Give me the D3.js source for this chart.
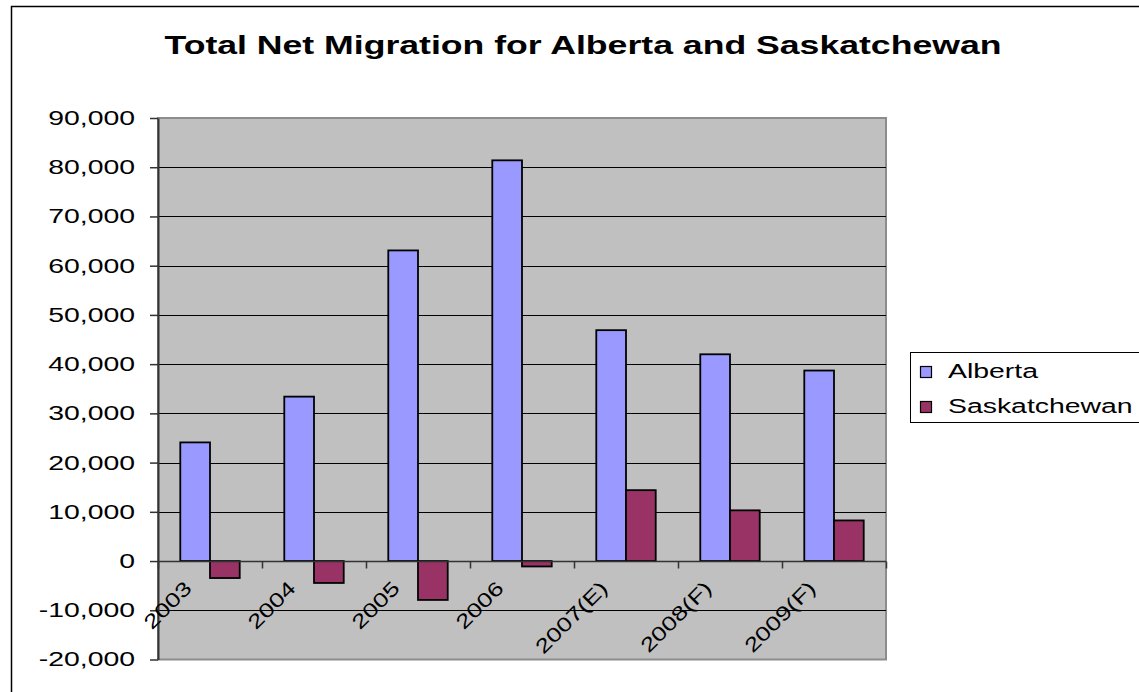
<!DOCTYPE html>
<html>
<head>
<meta charset="utf-8">
<script src="https://cdn.jsdelivr.net/npm/d3@7"></script>
<style>
  body { margin: 0; background: #fff; }
  text { font-family: "Liberation Sans", Arial, sans-serif; fill: #000; }
</style>
</head>
<body>
<div id="chart"></div>
<script>
const years = ["2003", "2004", "2005", "2006", "2007(E)", "2008(F)", "2009(F)"];
const seriesNames = ["Alberta", "Saskatchewan"];
const alberta = [24100, 33400, 63100, 81400, 46900, 42000, 38700];
const saskatchewan = [-3450, -4450, -7900, -1100, 14400, 10300, 8250];
const yTicks = [-20000, -10000, 0, 10000, 20000, 30000, 40000, 50000, 60000, 70000, 80000, 90000];
const colors = ["#9999ff", "#993366"];
const title = "Total Net Migration for Alberta and Saskatchewan";

const W = 1139, H = 692;
const plot = { left: 158, right: 886, top: 118, bottom: 659.5 };
const stretch = 1.42;   // the original text is drawn wide

const fmt = d3.formatLocale({ decimal: ".", thousands: ",", grouping: [3], currency: ["$", ""], minus: "-" }).format(",");

const svg = d3.select("#chart").append("svg")
    .attr("width", W)
    .attr("height", H);

// chart frame (runs off the page right and bottom)
svg.append("rect")
    .attr("x", 11.5).attr("y", 6.5)
    .attr("width", 1300).attr("height", 800)
    .attr("fill", "#fff")
    .attr("stroke", "#000")
    .attr("stroke-width", 1.5);

svg.append("text")
    .attr("transform", "translate(583,54) scale(1.37,1)")
    .attr("text-anchor", "middle")
    .attr("font-size", 26)
    .attr("font-weight", "bold")
    .text(title);

const y = d3.scaleLinear()
    .domain([d3.min(yTicks), d3.max(yTicks)])
    .range([plot.bottom, plot.top]);

const x0 = d3.scaleBand()
    .domain(years)
    .range([plot.left, plot.right]);

const x1 = d3.scaleBand()
    .domain(seriesNames)
    .range([0, x0.bandwidth()])
    .paddingOuter(0.75);

// plot area
svg.append("rect")
    .attr("x", plot.left).attr("y", plot.top)
    .attr("width", plot.right - plot.left)
    .attr("height", plot.bottom - plot.top)
    .attr("fill", "#c0c0c0")
    .attr("stroke", "#8c8c8c")
    .attr("stroke-width", 2);

// gridlines
svg.append("g").selectAll("line")
    .data(yTicks.filter(d => d !== 0 && d !== d3.max(yTicks) && d !== d3.min(yTicks)))
    .join("line")
    .attr("x1", plot.left).attr("x2", plot.right)
    .attr("y1", d => Math.round(y(d)) + 0.5)
    .attr("y2", d => Math.round(y(d)) + 0.5)
    .attr("stroke", "#000")
    .attr("stroke-width", 1);

// bars
const rows = years.map((yr, i) => ({ year: yr, values: [alberta[i], saskatchewan[i]] }));

svg.append("g").selectAll("g")
    .data(rows)
    .join("g")
    .attr("transform", d => "translate(" + x0(d.year) + ",0)")
    .selectAll("rect")
    .data(d => d.values.map((v, j) => ({ name: seriesNames[j], value: v, color: colors[j] })))
    .join("rect")
    .attr("x", d => x1(d.name))
    .attr("width", x1.bandwidth())
    .attr("y", d => y(Math.max(0, d.value)))
    .attr("height", d => Math.abs(y(d.value) - y(0)))
    .attr("fill", d => d.color)
    .attr("stroke", "#000")
    .attr("stroke-width", 1.8);

// y axis
const yAxis = d3.axisLeft(y)
    .tickValues(yTicks)
    .tickSize(8)
    .tickSizeOuter(0)
    .tickFormat(fmt);

const yG = svg.append("g")
    .attr("transform", "translate(" + plot.left + ",0)")
    .call(yAxis);
yG.select(".domain").attr("stroke", "#333").attr("stroke-width", 2);
yG.selectAll(".tick line").attr("stroke", "#333").attr("stroke-width", 1.5);
yG.selectAll(".tick text")
    .attr("font-family", "Liberation Sans, Arial, sans-serif")
    .attr("font-size", 20)
    .attr("fill", "#000")
    .attr("x", -23 / stretch)
    .attr("transform", "scale(" + stretch + ",1)");

// category axis at zero
const zeroY = Math.round(y(0)) + 0.5;
svg.append("line")
    .attr("x1", plot.left).attr("x2", plot.right)
    .attr("y1", zeroY).attr("y2", zeroY)
    .attr("stroke", "#333")
    .attr("stroke-width", 1.5);

svg.append("g").selectAll("line")
    .data(years.map(d => x0(d)).concat([plot.right]))
    .join("line")
    .attr("x1", d => Math.round(d) + 0.5)
    .attr("x2", d => Math.round(d) + 0.5)
    .attr("y1", zeroY)
    .attr("y2", zeroY + 7)
    .attr("stroke", "#333")
    .attr("stroke-width", 1.5);

svg.append("g").selectAll("text")
    .data(years)
    .join("text")
    .attr("transform", d => "translate(" + (x0(d) + x0.bandwidth() / 2 - 17) + "," + (zeroY + 28) + ") rotate(-45) scale(1.3,1)")
    .attr("text-anchor", "end")
    .attr("font-size", 20)
    .text(d => d);

// legend
const legend = svg.append("g").attr("transform", "translate(910.5,352.5)");
legend.append("rect")
    .attr("width", 300).attr("height", 70)
    .attr("fill", "#fff")
    .attr("stroke", "#000")
    .attr("stroke-width", 1);

const item = legend.selectAll("g")
    .data(seriesNames)
    .join("g")
    .attr("transform", (d, i) => "translate(0," + (i * 35) + ")");
item.append("rect")
    .attr("x", 10).attr("y", 14)
    .attr("width", 11).attr("height", 11)
    .attr("fill", (d, i) => colors[i])
    .attr("stroke", "#000")
    .attr("stroke-width", 1.2);
item.append("text")
    .attr("transform", "translate(37.5,25) scale(" + stretch + ",1)")
    .attr("font-size", 20)
    .text(d => d);
</script>
</body>
</html>
